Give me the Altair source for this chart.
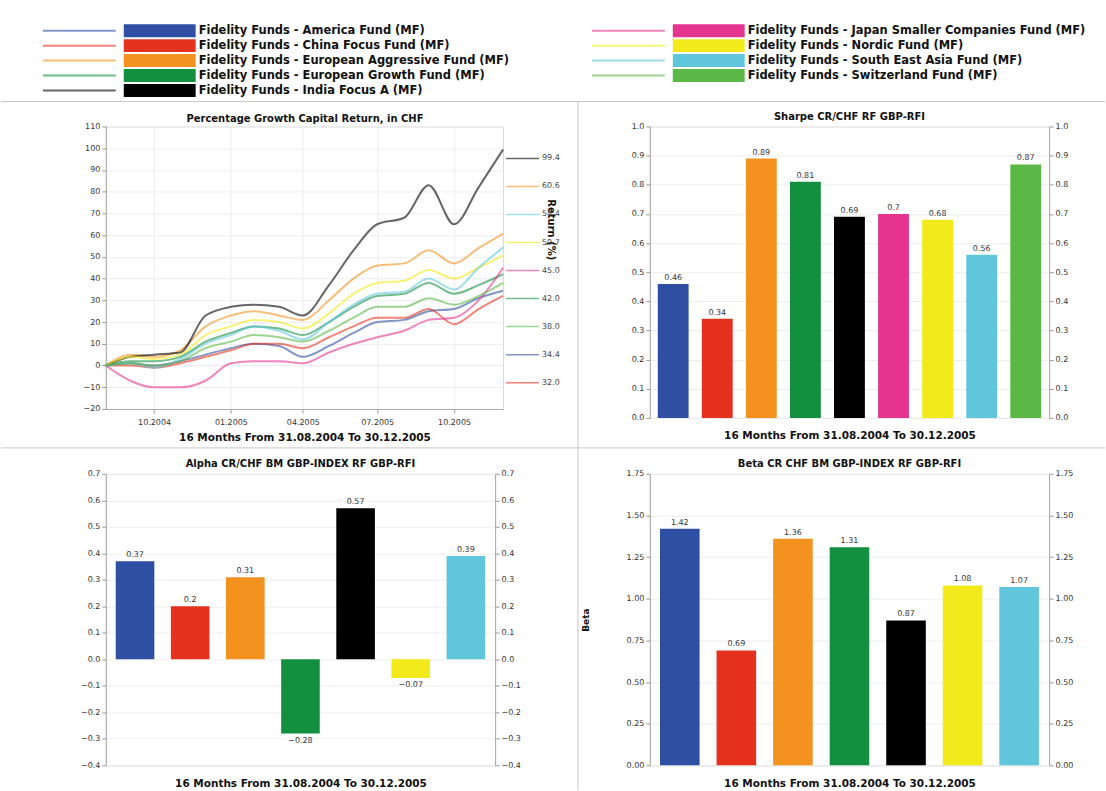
import altair as alt
import pandas as pd

# ---------------------------------------------------------------- data
FUNDS = [
    "Fidelity Funds - America Fund (MF)",
    "Fidelity Funds - China Focus Fund (MF)",
    "Fidelity Funds - European Aggressive Fund (MF)",
    "Fidelity Funds - European Growth Fund (MF)",
    "Fidelity Funds - India Focus A (MF)",
    "Fidelity Funds - Japan Smaller Companies Fund (MF)",
    "Fidelity Funds - Nordic Fund (MF)",
    "Fidelity Funds - South East Asia Fund (MF)",
    "Fidelity Funds - Switzerland Fund (MF)",
]
COLORS = ["#2f4fa2", "#e5321f", "#f49220", "#12903f", "#000000",
          "#e5348d", "#f3ea1b", "#5fc6dc", "#5bb846"]

MONTHS = ["2004/08/31", "2004/09/30", "2004/10/29", "2004/11/30", "2004/12/31",
          "2005/01/31", "2005/02/28", "2005/03/31", "2005/04/29", "2005/05/31",
          "2005/06/30", "2005/07/29", "2005/08/31", "2005/09/30", "2005/10/31",
          "2005/11/30", "2005/12/30"]

# cumulative capital return in CHF (%), one value per month end
GROWTH_AMERICA = [0, 1, 0, 2, 5, 8, 10, 9, 4, 9, 15, 20, 21, 25, 26, 31, 34.4]
GROWTH_CHINA = [0, 0, -1, 1, 4, 7, 10, 10, 8, 13, 18, 22, 22, 26, 19, 26, 32.0]
GROWTH_EUR_AGGR = [0, 5, 4, 7, 18, 23, 25, 23, 21, 30, 40, 46, 47, 53, 47, 54, 60.6]
GROWTH_EUR_GROWTH = [0, 2, 2, 4, 11, 15, 18, 17, 14, 20, 27, 32, 33, 38, 33, 37, 42.0]
GROWTH_INDIA = [0, 4, 5, 6, 23, 27, 28, 27, 23, 37, 53, 65, 68, 83, 65, 82, 99.4]
GROWTH_JAPAN = [0, -7, -10, -10, -7, 1, 2, 2, 1, 6, 10, 13, 16, 21, 22, 30, 45.0]
GROWTH_NORDIC = [0, 4, 3, 5, 14, 18, 21, 20, 17, 24, 33, 38, 39, 44, 40, 45, 50.7]
GROWTH_SEA = [0, 1, -1, 3, 10, 14, 18, 16, 12, 20, 28, 33, 34, 40, 35, 45, 54.4]
GROWTH_SWISS = [0, 1, 0, 2, 8, 11, 14, 13, 11, 16, 22, 27, 27, 31, 28, 32, 38.0]
GROWTH = [GROWTH_AMERICA, GROWTH_CHINA, GROWTH_EUR_AGGR, GROWTH_EUR_GROWTH,
          GROWTH_INDIA, GROWTH_JAPAN, GROWTH_NORDIC, GROWTH_SEA, GROWTH_SWISS]

SHARPE = [0.46, 0.34, 0.89, 0.81, 0.69, 0.70, 0.68, 0.56, 0.87]

RISK_FUNDS = [FUNDS[i] for i in (0, 1, 2, 3, 4, 6, 7)]
ALPHA = [0.37, 0.20, 0.31, -0.28, 0.57, -0.07, 0.39]
BETA = [1.42, 0.69, 1.36, 1.31, 0.87, 1.08, 1.07]

FOOTER = "16 Months From 31.08.2004 To 30.12.2005"
T_GROWTH = "Percentage Growth Capital Return, in CHF"
T_SHARPE = "Sharpe CR/CHF RF GBP-RFI"
T_ALPHA = "Alpha CR/CHF BM GBP-INDEX RF GBP-RFI"
T_BETA = "Beta CR CHF BM GBP-INDEX RF GBP-RFI"

FONT = "DejaVu Sans"
color_scale = alt.Scale(domain=FUNDS, range=COLORS)


def fund_color():
    return alt.Color("fund:N", scale=color_scale, legend=None)


# ---------------------------------------------------------------- growth lines
rows = []
for fund, series in zip(FUNDS, GROWTH):
    for d, v in zip(MONTHS, series):
        rows.append({"fund": fund, "date": d, "value": v})
growth_df = pd.DataFrame(rows)
end_df = growth_df[growth_df["date"] == MONTHS[-1]].reset_index(drop=True)

time_scale = alt.Scale(domain=[alt.DateTime(year=2004, month=8, date=31),
                               alt.DateTime(year=2005, month=12, date=30)])
tick_dates = [alt.DateTime(year=2004, month=10, date=29),
              alt.DateTime(year=2005, month=1, date=31),
              alt.DateTime(year=2005, month=4, date=29),
              alt.DateTime(year=2005, month=7, date=29),
              alt.DateTime(year=2005, month=10, date=31)]
growth_scale = alt.Scale(domain=[-20, 110], nice=False, zero=False)

lines = alt.Chart(growth_df).mark_line(
    strokeWidth=2, opacity=0.6, interpolate="monotone"
).encode(
    x=alt.X("date:T", scale=time_scale,
            axis=alt.Axis(values=tick_dates, format="%m.%Y", title=FOOTER,
                          tickSize=4, labelPadding=6, titlePadding=6)),
    y=alt.Y("value:Q", scale=growth_scale,
            axis=alt.Axis(values=list(range(-20, 111, 10)), title=None, tickSize=4)),
    color=fund_color(),
    detail="fund:N",
)

# end-of-period labels, stacked in value order to the right of the plot
end_base = alt.Chart(end_df).transform_window(
    slot="row_number()", sort=[alt.SortField("value", order="descending")]
).transform_calculate(label_y="95.3 - (datum.slot - 1) * 12.9")

leaders = end_base.mark_rule(strokeWidth=1.5, opacity=0.6, xOffset=3, x2Offset=36).encode(
    x=alt.X("date:T", scale=time_scale,
            axis=alt.Axis(orient="top", title=T_GROWTH, labels=False, ticks=False,
                          domain=False, grid=False, titlePadding=3, titleFontSize=10)),
    x2=alt.X2("date"),
    y=alt.Y("label_y:Q", scale=growth_scale, axis=None),
    color=fund_color(),
)
end_labels = end_base.mark_text(align="left", baseline="middle", dx=39, fontSize=8,
                                color="#444").encode(
    x=alt.X("date:T", scale=time_scale, axis=None),
    y=alt.Y("label_y:Q", scale=growth_scale,
            axis=alt.Axis(orient="right", title="Return (%)", labels=False, ticks=False,
                          domain=False, grid=False, titlePadding=42, titleFontSize=10,
                          titleY=103)),
    text=alt.Text("value:Q", format=".1f"),
)
growth_layer = alt.layer(lines, leaders, end_labels).resolve_axis(
    x="independent", y="independent")

# ---------------------------------------------------------------- legend
legend_df = pd.DataFrame({
    "fund": FUNDS,
    "col": [i // 5 for i in range(len(FUNDS))],
    "row": [i % 5 for i in range(len(FUNDS))],
})
lx = alt.X("col:Q", scale=alt.Scale(domain=[0, 1], range=[-63, 487]), axis=None)
ly = alt.Y("row:Q", scale=alt.Scale(domain=[0, 4], range=[-96, -36]), axis=None)
legend_base = alt.Chart(legend_df)
legend_lines = legend_base.mark_rule(strokeWidth=2, opacity=0.6, x2Offset=73).encode(
    x=lx, x2=alt.X2("col"), y=ly, color=fund_color())
legend_boxes = legend_base.mark_rect(xOffset=81, x2Offset=153, yOffset=-6.5,
                                     y2Offset=6.5).encode(
    x=lx, x2=alt.X2("col"), y=ly, y2=alt.Y2("row"), color=fund_color())
legend_text = legend_base.mark_text(align="left", baseline="middle", dx=156, fontSize=11.5,
                                    fontWeight="bold", font=FONT, limit=356,
                                    ellipsis="", color="#111").encode(
    x=lx, y=ly, text="fund:N")
legend_layer = alt.layer(legend_lines, legend_boxes, legend_text)

# page frame and panel dividers
one = alt.Chart(pd.DataFrame({"k": [0]}))
page_top = one.mark_rule(color="white").encode(
    x=alt.value(-105), x2=alt.value(1001), y=alt.value(-125))
div_legend = one.mark_rule(color="#c8c8c8").encode(
    x=alt.value(-105), x2=alt.value(1001), y=alt.value(-25))
div_rows = one.mark_rule(color="#c8c8c8").encode(
    x=alt.value(-105), x2=alt.value(1001), y=alt.value(322))
div_cols = one.mark_rule(color="#c8c8c8").encode(
    x=alt.value(473), y=alt.value(-25), y2=alt.value(665))

growth_panel = alt.layer(
    growth_layer, legend_layer, page_top, div_legend, div_rows, div_cols
).resolve_scale(x="independent", y="independent").properties(width=398, height=283)


# ---------------------------------------------------------------- bar panels
def bar_panel(names, values, title, domain, ticks, fmt, width, height,
              title_offset, y_title=None):
    df = pd.DataFrame({"fund": names, "v": values})
    base = alt.Chart(df)
    x_enc = alt.X("fund:N", sort=names,
                  scale=alt.Scale(paddingInner=0.3, paddingOuter=0.18),
                  axis=alt.Axis(labels=False, ticks=False, domain=False, title=FOOTER,
                                titlePadding=13))
    yscale = alt.Scale(domain=domain, nice=False, zero=True)
    if y_title is None:
        left_axis = alt.Axis(values=ticks, format=fmt, tickSize=4, orient="left",
                             title=None)
    else:
        left_axis = alt.Axis(values=ticks, format=fmt, tickSize=4, orient="left",
                             title=y_title, titlePadding=36, titleFontSize=9)
    bars = base.mark_bar().encode(
        x=x_enc, y=alt.Y("v:Q", scale=yscale, axis=left_axis), color=fund_color())
    pos = base.transform_filter("datum.v >= 0").mark_text(
        baseline="bottom", dy=-2, fontSize=8, color="#333").encode(
        x=x_enc,
        y=alt.Y("v:Q", scale=yscale,
                axis=alt.Axis(values=ticks, format=fmt, tickSize=4, orient="right",
                              title=None, grid=False)),
        text=alt.Text("v:Q", format=".2~f"),
    )
    neg = base.transform_filter("datum.v < 0").mark_text(
        baseline="top", dy=3, fontSize=8, color="#333").encode(
        x=x_enc,
        y=alt.Y("v:Q", scale=yscale, axis=None),
        text=alt.Text("v:Q", format=".2~f"),
    )
    return alt.layer(bars, pos, neg).resolve_axis(y="independent").properties(
        width=width, height=height,
        title=alt.TitleParams(title, fontSize=10, fontWeight="bold", font=FONT,
                              offset=title_offset, color="#111"),
    )


sharpe_panel = bar_panel(FUNDS, SHARPE, T_SHARPE, [0, 1.0],
                         [round(i / 10, 1) for i in range(11)], ".1f", 400, 292, 0)
alpha_panel = bar_panel(RISK_FUNDS, ALPHA, T_ALPHA, [-0.4, 0.7],
                        [round(i / 10, 1) for i in range(-4, 8)], ".1f", 390, 292, 1)
beta_panel = bar_panel(RISK_FUNDS, BETA, T_BETA, [0, 1.75],
                       [i * 0.25 for i in range(8)], ".2f", 400, 292, 1, y_title="Beta")

chart = alt.concat(
    growth_panel, sharpe_panel, alpha_panel, beta_panel,
    columns=2, bounds="flush",
    spacing=alt.RowColnumber(row=56, column=147),
).properties(padding=0).configure(font=FONT).configure_view(
    stroke="#d6d6d6"
).configure_axis(
    labelFont=FONT, labelFontSize=8, labelColor="#333", tickColor="#999",
    domainColor="#aaa", gridColor="#ededed", titleFont=FONT, titleFontSize=10.5,
    titleFontWeight="bold", titleColor="#111",
)

chart.save("out.html", embed_options={"renderer": "svg", "actions": False})
